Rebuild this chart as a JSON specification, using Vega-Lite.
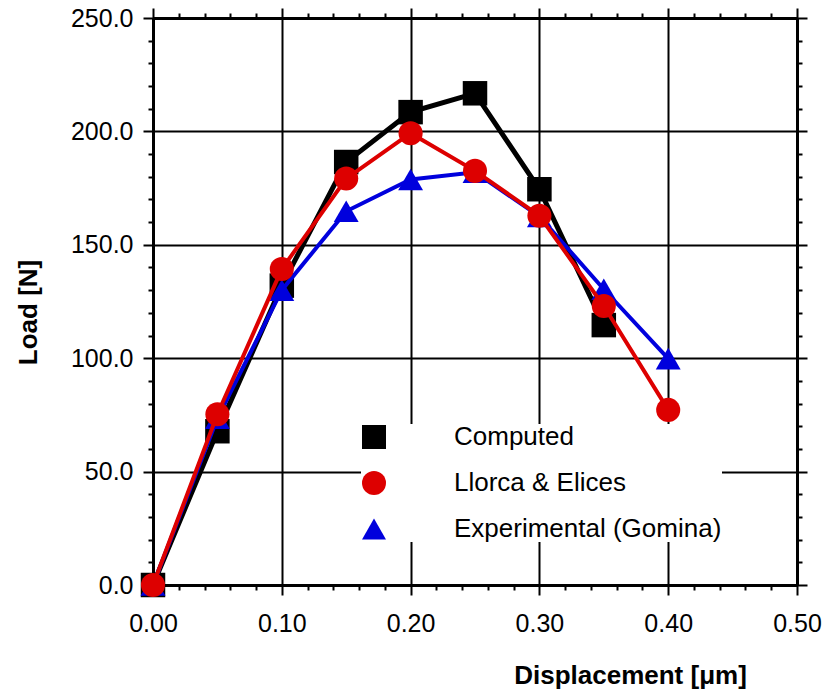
{
  "$schema": "https://vega.github.io/schema/vega-lite/v6.json",
  "width": 644,
  "height": 567,
  "autosize": {"type": "none"},
  "padding": {"left": 153, "top": 18, "right": 29, "bottom": 105},
  "background": "white",
  "config": {
    "font": "Liberation Sans",
    "view": {"stroke": null},
    "axis": {
      "labelFont": "Liberation Sans",
      "labelFontSize": 25,
      "labelColor": "#000000",
      "labelFlush": false,
      "labelOverlap": false,
      "tickColor": "#000000",
      "tickWidth": 2,
      "domainColor": "#000000",
      "domainWidth": 3,
      "gridColor": "#000000",
      "gridWidth": 2,
      "gridOpacity": 1,
      "titleFont": "Liberation Sans",
      "titleFontSize": 26,
      "titleFontWeight": "bold",
      "titleColor": "#000000"
    }
  },
  "data": {
    "values": [
      {"series": "Computed", "disp": 0.0, "load": 0.0},
      {"series": "Computed", "disp": 0.05, "load": 67.8},
      {"series": "Computed", "disp": 0.10, "load": 132.0},
      {"series": "Computed", "disp": 0.15, "load": 186.5},
      {"series": "Computed", "disp": 0.20, "load": 208.5},
      {"series": "Computed", "disp": 0.25, "load": 216.8},
      {"series": "Computed", "disp": 0.30, "load": 174.5},
      {"series": "Computed", "disp": 0.35, "load": 114.6},
      {"series": "Experimental (Gomina)", "disp": 0.0, "load": 0.0},
      {"series": "Experimental (Gomina)", "disp": 0.05, "load": 73.5},
      {"series": "Experimental (Gomina)", "disp": 0.10, "load": 130.0},
      {"series": "Experimental (Gomina)", "disp": 0.15, "load": 164.8},
      {"series": "Experimental (Gomina)", "disp": 0.20, "load": 178.8},
      {"series": "Experimental (Gomina)", "disp": 0.25, "load": 182.0},
      {"series": "Experimental (Gomina)", "disp": 0.30, "load": 162.5},
      {"series": "Experimental (Gomina)", "disp": 0.35, "load": 130.4},
      {"series": "Experimental (Gomina)", "disp": 0.40, "load": 99.8},
      {"series": "Llorca & Elices", "disp": 0.0, "load": 0.0},
      {"series": "Llorca & Elices", "disp": 0.05, "load": 75.3},
      {"series": "Llorca & Elices", "disp": 0.10, "load": 139.3},
      {"series": "Llorca & Elices", "disp": 0.15, "load": 179.2},
      {"series": "Llorca & Elices", "disp": 0.20, "load": 199.2},
      {"series": "Llorca & Elices", "disp": 0.25, "load": 182.6},
      {"series": "Llorca & Elices", "disp": 0.30, "load": 162.8},
      {"series": "Llorca & Elices", "disp": 0.35, "load": 123.0},
      {"series": "Llorca & Elices", "disp": 0.40, "load": 77.2}
    ]
  },
  "resolve": {"axis": {"x": "independent", "y": "independent"}},
  "layer": [
    {
      "mark": {"type": "point", "opacity": 0},
      "encoding": {
        "x": {"field": "disp", "type": "quantitative", "scale": {"domain": [0, 0.5], "nice": false, "zero": false},
          "axis": {"orient": "bottom", "values": [0, 0.1, 0.2, 0.3, 0.4, 0.5], "format": ".2f", "tickSize": 10, "labelPadding": 16, "grid": true, "domain": true,
            "title": "Displacement [μm]", "titleX": 477, "titleY": 98, "titleAlign": "center", "titleBaseline": "alphabetic"}},
        "y": {"field": "load", "type": "quantitative", "scale": {"domain": [0, 250], "nice": false, "zero": false},
          "axis": {"orient": "left", "values": [0, 50, 100, 150, 200, 250], "format": ".1f", "tickSize": 10, "labelPadding": 10, "grid": true, "domain": true,
            "title": "Load [N]", "titleAngle": 270, "titleX": -125, "titleY": 294, "titleAlign": "center", "titleBaseline": "middle"}}
      }
    },
    {
      "mark": {"type": "point", "opacity": 0},
      "encoding": {
        "x": {"field": "disp", "type": "quantitative", "scale": {"domain": [0, 0.5], "nice": false, "zero": false},
          "axis": {"orient": "bottom", "values": [0.02, 0.04, 0.06, 0.08, 0.12, 0.14, 0.16, 0.18, 0.22, 0.24, 0.26, 0.28, 0.32, 0.34, 0.36, 0.38, 0.42, 0.44, 0.46, 0.48], "tickSize": 5, "labels": false, "grid": false, "domain": false, "title": null}},
        "y": {"field": "load", "type": "quantitative", "scale": {"domain": [0, 250], "nice": false, "zero": false},
          "axis": {"orient": "left", "values": [10, 20, 30, 40, 60, 70, 80, 90, 110, 120, 130, 140, 160, 170, 180, 190, 210, 220, 230, 240], "tickSize": 5, "labels": false, "grid": false, "domain": false, "title": null}}
      }
    },
    {
      "mark": {"type": "point", "opacity": 0},
      "encoding": {
        "x": {"field": "disp", "type": "quantitative", "scale": {"domain": [0, 0.5], "nice": false, "zero": false},
          "axis": {"orient": "top", "values": [0, 0.1, 0.2, 0.3, 0.4, 0.5], "tickSize": 10, "labels": false, "grid": false, "domain": true, "title": null}},
        "y": {"field": "load", "type": "quantitative", "scale": {"domain": [0, 250], "nice": false, "zero": false},
          "axis": {"orient": "right", "values": [0, 50, 100, 150, 200, 250], "tickSize": 10, "labels": false, "grid": false, "domain": true, "title": null}}
      }
    },
    {
      "mark": {"type": "point", "opacity": 0},
      "encoding": {
        "x": {"field": "disp", "type": "quantitative", "scale": {"domain": [0, 0.5], "nice": false, "zero": false},
          "axis": {"orient": "top", "values": [0.02, 0.04, 0.06, 0.08, 0.12, 0.14, 0.16, 0.18, 0.22, 0.24, 0.26, 0.28, 0.32, 0.34, 0.36, 0.38, 0.42, 0.44, 0.46, 0.48], "tickSize": 5, "labels": false, "grid": false, "domain": false, "title": null}},
        "y": {"field": "load", "type": "quantitative", "scale": {"domain": [0, 250], "nice": false, "zero": false},
          "axis": {"orient": "right", "values": [10, 20, 30, 40, 60, 70, 80, 90, 110, 120, 130, 140, 160, 170, 180, 190, 210, 220, 230, 240], "tickSize": 5, "labels": false, "grid": false, "domain": false, "title": null}}
      }
    },
    {
      "transform": [{"filter": "datum.series === 'Computed'"}],
      "mark": {"type": "line", "strokeWidth": 5},
      "encoding": {
        "x": {"field": "disp", "type": "quantitative", "scale": {"domain": [0, 0.5], "nice": false, "zero": false}, "axis": null},
        "y": {"field": "load", "type": "quantitative", "scale": {"domain": [0, 250], "nice": false, "zero": false}, "axis": null},
        "color": {"field": "series", "type": "nominal", "scale": {"domain": ["Computed", "Llorca & Elices", "Experimental (Gomina)"], "range": ["#000000", "#dd0000", "#0000dd"]}}
      }
    },
    {
      "transform": [{"filter": "datum.series === 'Computed'"}],
      "mark": {"type": "point", "filled": true, "size": 600, "opacity": 1},
      "encoding": {
        "x": {"field": "disp", "type": "quantitative", "scale": {"domain": [0, 0.5], "nice": false, "zero": false}, "axis": null},
        "y": {"field": "load", "type": "quantitative", "scale": {"domain": [0, 250], "nice": false, "zero": false}, "axis": null},
        "color": {"field": "series", "type": "nominal", "scale": {"domain": ["Computed", "Llorca & Elices", "Experimental (Gomina)"], "range": ["#000000", "#dd0000", "#0000dd"]},
          "legend": {
            "orient": "none", "legendX": 208, "legendY": 406, "title": null, "padding": 0,
            "fillColor": "white",
            "symbolSize": 576, "symbolStrokeWidth": 0, "symbolOffset": 0, "symbolOpacity": 1,
            "labelFont": "Liberation Sans", "labelFontSize": 26, "labelColor": "#000000", "labelOffset": 67, "labelLimit": 600, "rowPadding": 20
          }
        },
        "shape": {"field": "series", "type": "nominal", "scale": {"domain": ["Computed", "Llorca & Elices", "Experimental (Gomina)"], "range": ["square", "circle", "triangle-up"]}, "legend": null}
      }
    },
    {
      "transform": [{"filter": "datum.series === 'Experimental (Gomina)'"}],
      "mark": {"type": "line", "strokeWidth": 4},
      "encoding": {
        "x": {"field": "disp", "type": "quantitative", "scale": {"domain": [0, 0.5], "nice": false, "zero": false}, "axis": null},
        "y": {"field": "load", "type": "quantitative", "scale": {"domain": [0, 250], "nice": false, "zero": false}, "axis": null},
        "color": {"field": "series", "type": "nominal"}
      }
    },
    {
      "transform": [{"filter": "datum.series === 'Experimental (Gomina)'"}],
      "mark": {"type": "point", "filled": true, "size": 620, "opacity": 1},
      "encoding": {
        "x": {"field": "disp", "type": "quantitative", "scale": {"domain": [0, 0.5], "nice": false, "zero": false}, "axis": null},
        "y": {"field": "load", "type": "quantitative", "scale": {"domain": [0, 250], "nice": false, "zero": false}, "axis": null},
        "color": {"field": "series", "type": "nominal"},
        "shape": {"field": "series", "type": "nominal", "legend": null}
      }
    },
    {
      "transform": [{"filter": "datum.series === 'Llorca & Elices'"}],
      "mark": {"type": "line", "strokeWidth": 4},
      "encoding": {
        "x": {"field": "disp", "type": "quantitative", "scale": {"domain": [0, 0.5], "nice": false, "zero": false}, "axis": null},
        "y": {"field": "load", "type": "quantitative", "scale": {"domain": [0, 250], "nice": false, "zero": false}, "axis": null},
        "color": {"field": "series", "type": "nominal"}
      }
    },
    {
      "transform": [{"filter": "datum.series === 'Llorca & Elices'"}],
      "mark": {"type": "point", "filled": true, "size": 580, "opacity": 1},
      "encoding": {
        "x": {"field": "disp", "type": "quantitative", "scale": {"domain": [0, 0.5], "nice": false, "zero": false}, "axis": null},
        "y": {"field": "load", "type": "quantitative", "scale": {"domain": [0, 250], "nice": false, "zero": false}, "axis": null},
        "color": {"field": "series", "type": "nominal"},
        "shape": {"field": "series", "type": "nominal", "legend": null}
      }
    }
  ]
}
